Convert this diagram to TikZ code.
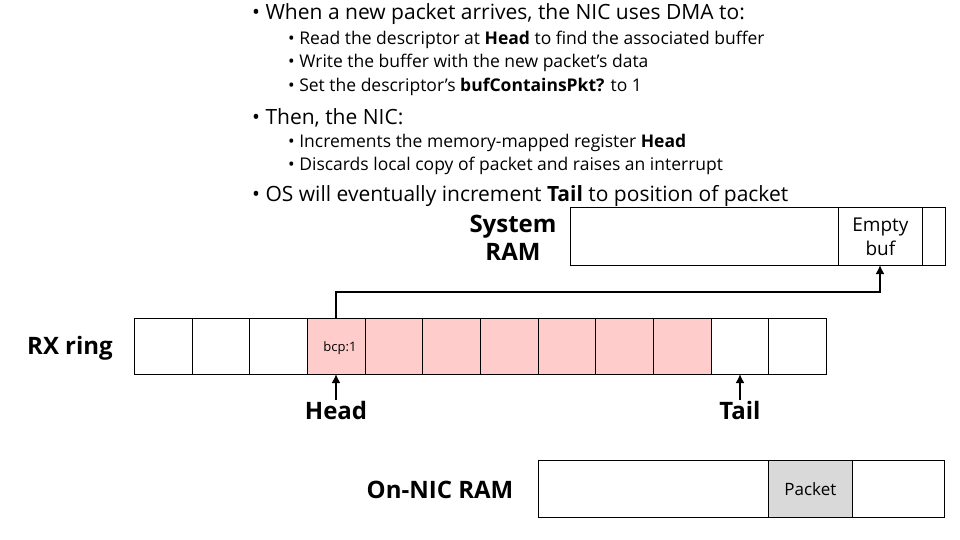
\documentclass[tikz,border=0pt]{standalone}
\usepackage{fontspec}
\usetikzlibrary{arrows.meta}
\setmainfont{Open Sans}
\begin{document}
\begin{tikzpicture}[x=1pt,y=-1pt,
  cell/.style={draw=black,line width=0.8pt,minimum width=57.67pt,minimum height=56pt,inner sep=0pt,anchor=north west},
  lbl/.style={font=\fontsize{24}{26}\selectfont\bfseries,align=center},
  big/.style={anchor=west,font=\fontsize{21}{24}\selectfont,inner sep=0pt},
  small/.style={anchor=west,font=\fontsize{17.5}{20}\selectfont,inner sep=0pt},
  arr/.style={line width=2.2pt,-{Latex[length=9pt,width=9pt]}}]
\useasboundingbox (0,0) rectangle (960,540);
\definecolor{pinkc}{RGB}{255,204,204}
\definecolor{grayc}{RGB}{217,217,217}
% bullets
\node[big] (b1) at (252,14) {\textbullet\ When a new packet arrives, the NIC uses DMA to:};
\node[small] (s1) at (288,40) {\textbullet\ Read the descriptor at \textbf{Head} to find the associated buffer};
\node[small] (s2) at (288,63) {\textbullet\ Write the buffer with the new packet’s data};
\node[small] (s3) at (288,87) {\textbullet\ Set the descriptor’s \textbf{bufContainsPkt?} to 1};
\node[big] (b2) at (252,118) {\textbullet\ Then, the NIC:};
\node[small] (s4) at (288,143) {\textbullet\ Increments the memory-mapped register \textbf{Head}};
\node[small] (s5) at (288,166) {\textbullet\ Discards local copy of packet and raises an interrupt};
\node[big] (b3) at (252,196) {\textbullet\ OS will eventually increment \textbf{Tail} to position of packet};
% System RAM
\node[lbl] (sys) at (513,238) {System\\[2pt]RAM};
\node[draw=black,line width=0.8pt,fill=white,minimum width=375pt,minimum height=58pt,anchor=north west,inner sep=0pt] (ram) at (570,207) {};
\node[draw=black,line width=0.8pt,minimum width=84pt,minimum height=58pt,anchor=north west,inner sep=0pt,align=center,font=\fontsize{19}{24}\selectfont] (buf) at (838,207) {Empty\\buf};
% RX ring
\node[lbl,anchor=center] (rx) at (70,348) {RX ring};
\foreach \i in {0,...,11}{
  \pgfmathtruncatemacro{\p}{(\i>2)&&(\i<10)}
  \ifnum\p=1 \node[cell,fill=pinkc] (c\i) at (134+57.67*\i,318) {};
  \else \node[cell] (c\i) at (134+57.67*\i,318) {};\fi
}
\node[font=\fontsize{13}{15}\selectfont] (bcp) at (340,348) {bcp:1};
\coordinate (turn1) at (336,292);
\coordinate (turn2) at (880,292);
\draw[arr] (336,318) -- (turn1) -- (turn2) -- (880,265);
% Head/Tail
\node[lbl] (head) at (336,410) {Head};
\node[lbl] (tail) at (740,410) {Tail};
\draw[arr] (336,400) -- (336,374);
\draw[arr] (740,400) -- (740,374);
% On-NIC RAM
\node[lbl] (nic) at (440,490) {On-NIC RAM};
\node[draw=black,line width=0.8pt,minimum width=406pt,minimum height=57pt,anchor=north west,inner sep=0pt] (nram) at (538,460) {};
\node[draw=black,line width=0.8pt,fill=grayc,minimum width=84pt,minimum height=57pt,anchor=north west,inner sep=0pt,font=\fontsize{17}{20}\selectfont] (pkt) at (768,460) {Packet};
\end{tikzpicture}
\end{document}
